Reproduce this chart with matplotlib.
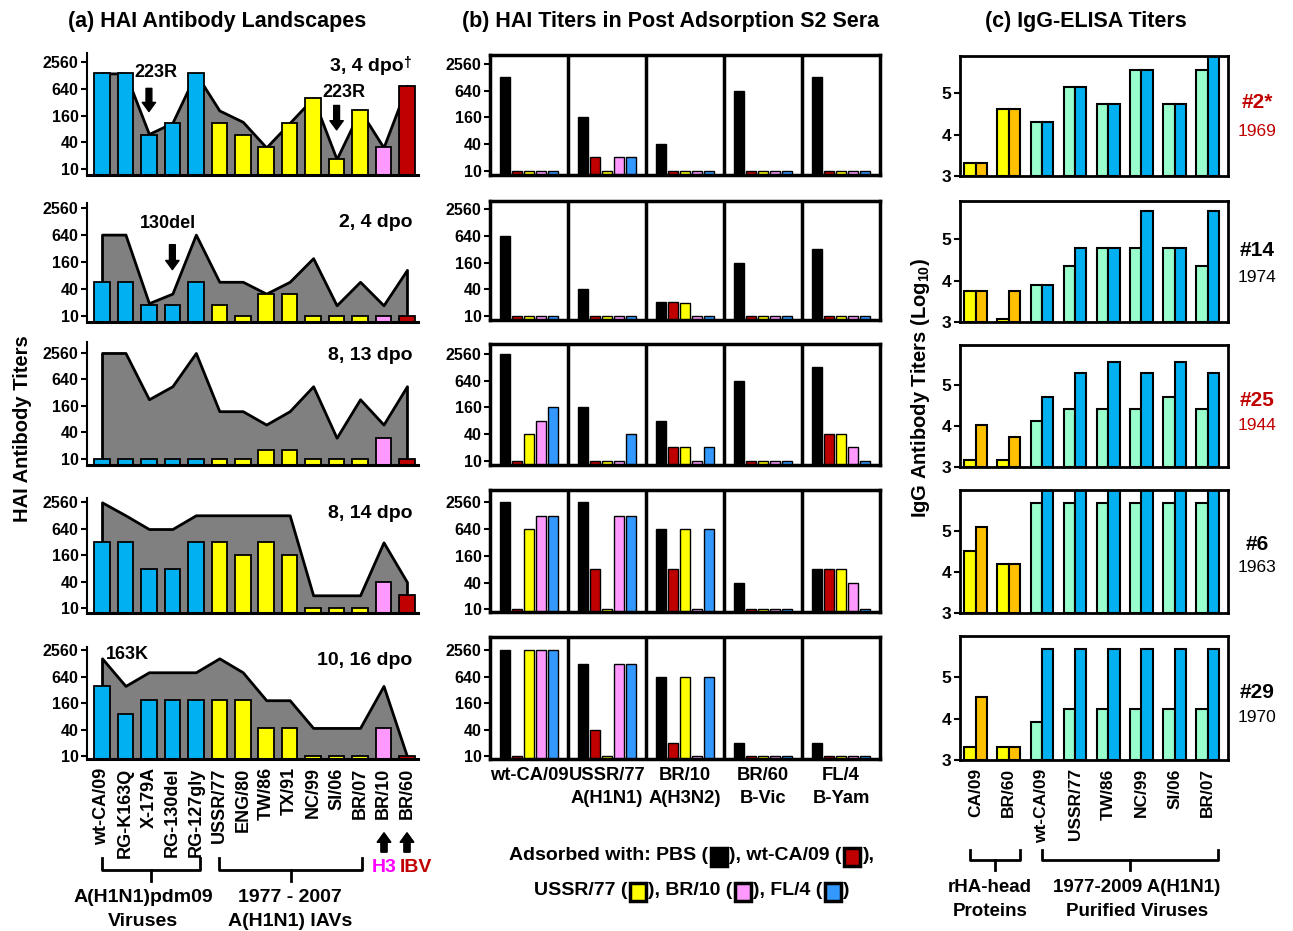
import numpy as np
import matplotlib
matplotlib.use('Agg')
import matplotlib.pyplot as plt
from matplotlib.lines import Line2D
from matplotlib.patches import Rectangle
from matplotlib.offsetbox import TextArea, DrawingArea, HPacker, VPacker, AnchoredOffsetbox

plt.rcParams['font.family'] = ['Liberation Sans', 'DejaVu Sans']
plt.rcParams['font.weight'] = 'bold'
plt.rcParams['mathtext.default'] = 'regular'

# ---------------- data ----------------
# (a) HAI antibody landscapes: 14 viruses, bars + grey area per ferret pair
a_viruses = ['wt-CA/09', 'RG-K163Q', 'X-179A', 'RG-130del', 'RG-127gly', 'USSR/77', 'ENG/80',
             'TW/86', 'TX/91', 'NC/99', 'SI/06', 'BR/07', 'BR/10', 'BR/60']
a_rowlabels = ['3, 4 dpo', '2, 4 dpo', '8, 13 dpo', '8, 14 dpo', '10, 16 dpo']

a_bars_1 = [1400, 1400, 58, 110, 1400, 110, 58, 31, 110, 394, 17, 208, 31, 741]
a_bars_2 = [57, 57, 17, 17, 57, 17, 10, 31, 31, 10, 10, 10, 10, 10]
a_bars_3 = [10, 10, 10, 10, 10, 10, 10, 16, 16, 10, 10, 10, 30, 10]
a_bars_4 = [314, 314, 79, 79, 314, 314, 159, 314, 159, 10, 10, 10, 39, 19.5]
a_bars_5 = [394, 90, 187, 187, 187, 187, 187, 44, 44, 10, 10, 10, 44, 10]

a_area_1 = [1400, 1400, 62, 110, 1400, 208, 116, 31, 110, 394, 17, 208, 31, 741]
a_area_2 = [645, 645, 19, 31, 645, 57, 57, 31, 57, 192, 17, 57, 17, 105]
a_area_3 = [2560, 2560, 226, 447, 2560, 121, 121, 60, 121, 447, 30, 226, 60, 447]
a_area_4 = [2560, 1300, 632, 632, 1300, 1300, 1300, 1300, 1300, 19.5, 19.5, 19.5, 314, 39]
a_area_5 = [1660, 394, 803, 803, 803, 1660, 803, 187, 187, 44, 44, 44, 394, 10]

a_bars = [a_bars_1, a_bars_2, a_bars_3, a_bars_4, a_bars_5]
a_area = [a_area_1, a_area_2, a_area_3, a_area_4, a_area_5]

# (b) HAI titers after adsorption: rows = test virus, cols = adsorbed with
b_tests = ['wt-CA/09', 'USSR/77\nA(H1N1)', 'BR/10\nA(H3N2)', 'BR/60\nB-Vic', 'FL/4\nB-Yam']
b_adsorb = ['PBS', 'wt-CA/09', 'USSR/77', 'BR/10', 'FL/4']
b_titers_1 = [[1280, 10, 10, 10, 10], [160, 20, 10, 20, 20], [40, 10, 10, 10, 10],
              [640, 10, 10, 10, 10], [1280, 10, 10, 10, 10]]
b_titers_2 = [[640, 10, 10, 10, 10], [40, 10, 10, 10, 10], [20, 20, 19, 10, 10],
              [160, 10, 10, 10, 10], [320, 10, 10, 10, 10]]
b_titers_3 = [[2560, 10, 40, 80, 160], [160, 10, 10, 10, 40], [80, 20, 20, 10, 20],
              [640, 10, 10, 10, 10], [1280, 40, 40, 20, 10]]
b_titers_4 = [[2560, 10, 640, 1280, 1280], [2560, 80, 10, 1280, 1280], [640, 80, 640, 10, 640],
              [40, 10, 10, 10, 10], [80, 80, 80, 40, 10]]
b_titers_5 = [[2560, 10, 2560, 2560, 2560], [1280, 40, 10, 1280, 1280], [640, 20, 640, 10, 640],
              [20, 10, 10, 10, 10], [20, 10, 10, 10, 10]]
b_titers = [b_titers_1, b_titers_2, b_titers_3, b_titers_4, b_titers_5]

# (c) IgG-ELISA titers (log10), two bars per antigen
c_antigens = ['CA/09', 'BR/60', 'wt-CA/09', 'USSR/77', 'TW/86', 'NC/99', 'SI/06', 'BR/07']
c_ferrets = ['#2*', '#14', '#25', '#6', '#29']
c_years = ['1969', '1974', '1944', '1963', '1970']
c_left_1 = [3.31, 4.61, 4.30, 5.15, 4.73, 5.57, 4.73, 5.57]
c_right_1 = [3.31, 4.61, 4.30, 5.15, 4.73, 5.57, 4.73, 5.90]
c_left_2 = [3.75, 3.08, 3.90, 4.36, 4.79, 4.79, 4.79, 4.36]
c_right_2 = [3.75, 3.75, 3.90, 4.79, 4.79, 5.68, 4.79, 5.68]
c_left_3 = [3.16, 3.16, 4.13, 4.41, 4.41, 4.41, 4.70, 4.41]
c_right_3 = [4.02, 3.73, 4.70, 5.29, 5.57, 5.29, 5.57, 5.29]
c_left_4 = [4.51, 4.20, 5.69, 5.69, 5.69, 5.69, 5.69, 5.69]
c_right_4 = [5.10, 4.20, 6.00, 6.00, 6.00, 6.00, 6.00, 6.00]
c_left_5 = [3.32, 3.32, 3.91, 4.23, 4.23, 4.23, 4.23, 4.23]
c_right_5 = [4.52, 3.32, 5.69, 5.69, 5.69, 5.69, 5.69, 5.69]
c_left = [c_left_1, c_left_2, c_left_3, c_left_4, c_left_5]
c_right = [c_right_1, c_right_2, c_right_3, c_right_4, c_right_5]

# ---------------- styles ----------------
BLUE = '#00B0F0'
YEL = '#FFFF00'
PINK = '#FF99FF'
RED = '#C00000'
a_colors = [BLUE] * 5 + [YEL] * 7 + [PINK, RED]
b_colors = ['black', RED, YEL, PINK, '#3399FF']
c_lcol = [YEL, YEL] + ['#99FFCC'] * 6
c_rcol = ['#FFC000', '#FFC000'] + [BLUE] * 6
c_namecol = [RED, 'black', RED, 'black', 'black']

W, H = 1293, 931
fig = plt.figure(figsize=(W / 100, H / 100), dpi=100)


def fx(x):
    return x / W


def fy(y):
    return 1 - y / H


def add_ax(l, t, r, b):
    return fig.add_axes([fx(l), fy(b), (r - l) / W, (b - t) / H])


def bracket(x0, x1, ytop, ybar, ytick):
    xm = (x0 + x1) / 2
    fig.add_artist(Line2D([fx(x0), fx(x0), fx(x1), fx(x1)], [fy(ytop), fy(ybar), fy(ybar), fy(ytop)],
                          transform=fig.transFigure, color='k', lw=2))
    fig.add_artist(Line2D([fx(xm), fx(xm)], [fy(ybar), fy(ytick)], transform=fig.transFigure, color='k', lw=2))


arrow_style = dict(arrowstyle='simple,head_length=0.55,head_width=0.8,tail_width=0.35',
                   fc='k', ec='k', mutation_scale=12, shrinkA=0, shrinkB=0)


def up_arrow(x, ytail, ytip):
    fig.add_artist(plt.annotate('', xy=(fx(x), fy(ytip)), xytext=(fx(x), fy(ytail)),
                                xycoords='figure fraction', textcoords='figure fraction',
                                arrowprops=arrow_style))


log_ticks = [10, 40, 160, 640, 2560]

# ---------------- panel (a) ----------------
a_rows = [(53, 175), (203, 322), (342, 465), (498, 613), (647, 759)]
a_ylims = [(7.5, 4000), (7.2, 3280), (7.2, 4550), (7.7, 3220), (8.7, 3000)]
a_label_y = [0.89, 0.84, 0.894, 0.867, 0.88]
x = np.arange(len(a_viruses))
for i in range(5):
    ax = add_ax(87, a_rows[i][0], 418, a_rows[i][1])
    y0, y1 = a_ylims[i]
    ax.set_yscale('log', base=2)
    ax.fill_between(x, y0, a_area[i], facecolor='#808080', edgecolor='k', lw=2, zorder=1)
    ax.bar(x, np.array(a_bars[i]) - y0, 0.66, bottom=y0, color=a_colors, edgecolor='k', lw=1.3, zorder=2)
    ax.set_xlim(-0.64, 13.47)
    ax.set_ylim(y0, y1)
    ax.set_yticks(log_ticks)
    ax.set_yticklabels([str(t) for t in log_ticks])
    ax.yaxis.set_minor_locator(matplotlib.ticker.NullLocator())
    ax.tick_params(axis='y', direction='out', length=4, width=1.5, labelsize=11.5, pad=2)
    for s in ['top', 'right']:
        ax.spines[s].set_visible(False)
    ax.spines['left'].set_linewidth(1.5)
    ax.spines['bottom'].set_linewidth(2.2)
    ax.patch.set_alpha(0)
    if i == 0:
        ax.text(0.958, a_label_y[i], a_rowlabels[i], transform=ax.transAxes, ha='right', va='center', fontsize=14)
        ax.text(0.955, a_label_y[i] + 0.03, '\u2020', transform=ax.transAxes, ha='left', va='center', fontsize=10)
    else:
        ax.text(0.982, a_label_y[i], a_rowlabels[i], transform=ax.transAxes, ha='right', va='center', fontsize=14)
    if i == 4:
        ax.set_xticks(x)
        ax.set_xticklabels(a_viruses, rotation=90, fontsize=13)
        ax.tick_params(axis='x', length=0, pad=6)
    else:
        ax.set_xticks([])
    # mutation markers
    if i == 0:
        ax.text(2.3, 0.84, '223R', transform=ax.get_xaxis_transform(), ha='center', va='center', fontsize=13)
        ax.annotate('', xy=(2, 0.52), xytext=(2, 0.71), xycoords=('data', 'axes fraction'),
                    textcoords=('data', 'axes fraction'), arrowprops=arrow_style)
        ax.text(10.3, 0.68, '223R', transform=ax.get_xaxis_transform(), ha='center', va='center', fontsize=13)
        ax.annotate('', xy=(10, 0.37), xytext=(10, 0.57), xycoords=('data', 'axes fraction'),
                    textcoords=('data', 'axes fraction'), arrowprops=arrow_style)
    if i == 1:
        ax.text(2.8, 0.83, '130del', transform=ax.get_xaxis_transform(), ha='center', va='center', fontsize=13)
        ax.annotate('', xy=(3, 0.44), xytext=(3, 0.65), xycoords=('data', 'axes fraction'),
                    textcoords=('data', 'axes fraction'), arrowprops=arrow_style)
    if i == 4:
        ax.text(1.1, 0.93, '163K', transform=ax.get_xaxis_transform(), ha='center', va='center', fontsize=13)

fig.text(fx(23), fy(429), 'HAI Antibody Titers', rotation=90, ha='center', va='center', fontsize=14.5)
fig.text(fx(217), fy(21), '(a) HAI Antibody Landscapes', ha='center', va='center', fontsize=15.5)

bracket(102, 200, 858, 870, 881)
bracket(219, 362, 858, 870, 881)
fig.text(fx(143), fy(898), 'A(H1N1)pdm09', ha='center', va='center', fontsize=14)
fig.text(fx(143), fy(921), 'Viruses', ha='center', va='center', fontsize=14)
fig.text(fx(290), fy(898), '1977 - 2007', ha='center', va='center', fontsize=14)
fig.text(fx(290), fy(921), 'A(H1N1) IAVs', ha='center', va='center', fontsize=14)
up_arrow(384, 852, 833)
up_arrow(407, 852, 833)
fig.text(fx(384), fy(868), 'H3', ha='center', va='center', fontsize=14, color='#FF00FF')
fig.text(fx(416), fy(868), 'IBV', ha='center', va='center', fontsize=14, color=RED)

# ---------------- panel (b) ----------------
b_rows = [(55, 175), (201, 320), (344, 465), (490, 612), (637, 759)]
b_ylims = [(8.0, 4100), (8.0, 3960), (8.0, 4300), (8.7, 4870), (8.7, 5120)]
g = np.arange(len(b_tests))
for i in range(5):
    ax = add_ax(490, b_rows[i][0], 880, b_rows[i][1])
    y0, y1 = b_ylims[i]
    ax.set_yscale('log', base=2)
    vals = np.array(b_titers[i], dtype=float)
    for j in range(len(b_adsorb)):
        ax.bar(g + 0.5 + (j - 2) * 0.155, vals[:, j] - y0, 0.13, bottom=y0, color=b_colors[j],
               edgecolor='k', lw=1, zorder=2)
    for k in range(1, 5):
        ax.axvline(k, color='k', lw=2.5, zorder=3)
    ax.set_xlim(0, 5)
    ax.set_ylim(y0, y1)
    ax.set_yticks(log_ticks)
    ax.set_yticklabels([str(t) for t in log_ticks])
    ax.yaxis.set_minor_locator(matplotlib.ticker.NullLocator())
    ax.tick_params(axis='y', direction='out', length=4, width=1.5, labelsize=11.5, pad=2)
    for s in ax.spines.values():
        s.set_linewidth(2.5)
    if i == 4:
        ax.set_xticks(g + 0.5)
        ax.set_xticklabels(b_tests, fontsize=13.2, linespacing=1.45)
        ax.tick_params(axis='x', length=0, pad=6)
    else:
        ax.set_xticks([])

fig.text(fx(671), fy(21), '(b) HAI Titers in Post Adsorption S2 Sera', ha='center', va='center', fontsize=15.5)


def swatch(c):
    da = DrawingArea(13, 12, 0, 0)
    da.add_artist(Rectangle((0.5, -1.5), 12, 13, fc=c, ec='k', lw=2.5))
    return da


tp = dict(fontsize=14, fontweight='bold')
line1 = HPacker(children=[TextArea('Adsorbed with: PBS (', textprops=tp), swatch(b_colors[0]),
                          TextArea('), wt-CA/09 (', textprops=tp), swatch(b_colors[1]),
                          TextArea('),', textprops=tp)], align='center', pad=0, sep=1)
line2 = HPacker(children=[TextArea('USSR/77 (', textprops=tp), swatch(b_colors[2]),
                          TextArea('), BR/10 (', textprops=tp), swatch(b_colors[3]),
                          TextArea('), FL/4 (', textprops=tp), swatch(b_colors[4]),
                          TextArea(')', textprops=tp)], align='center', pad=0, sep=1)
leg = VPacker(children=[line1, line2], align='center', pad=0, sep=13)
fig.add_artist(AnchoredOffsetbox(loc='center', child=leg, frameon=False, pad=0, borderpad=0,
                                 bbox_to_anchor=(fx(692), fy(873)), bbox_transform=fig.transFigure))

# ---------------- panel (c) ----------------
c_rows = [(56, 176), (201, 322), (345, 467), (490, 613), (636, 760)]
c_tops = [5.9, 5.93, 5.98, 6.0, 6.0]
c_name_y = [(103, 132), (250, 277), (400, 425), (545, 568), (692, 717)]
xc = np.arange(len(c_antigens))
for i in range(5):
    ax = add_ax(960, c_rows[i][0], 1228, c_rows[i][1])
    ax.bar(xc - 0.17, np.array(c_left[i]) - 3, 0.34, bottom=3, color=c_lcol, edgecolor='k', lw=1.5, zorder=2)
    ax.bar(xc + 0.17, np.array(c_right[i]) - 3, 0.34, bottom=3, color=c_rcol, edgecolor='k', lw=1.5, zorder=2)
    ax.set_xlim(-0.47, 7.61)
    ax.set_ylim(3, c_tops[i])
    ax.set_yticks([3, 4, 5])
    ax.tick_params(axis='y', direction='out', length=4, width=1.5, labelsize=12.5, pad=2)
    for s in ax.spines.values():
        s.set_linewidth(2)
    if i == 4:
        ax.set_xticks(xc)
        ax.set_xticklabels(c_antigens, rotation=90, fontsize=12.5)
        ax.tick_params(axis='x', length=0, pad=6)
    else:
        ax.set_xticks([])
    fig.text(fx(1257), fy(c_name_y[i][0]), c_ferrets[i], ha='center', va='center', fontsize=15, color=c_namecol[i])
    fig.text(fx(1257), fy(c_name_y[i][1]), c_years[i], ha='center', va='center', fontsize=12.5,
             fontweight='normal', color=c_namecol[i])

fig.text(fx(920), fy(388), 'IgG Antibody Titers (Log$_{10}$)', rotation=90, ha='center', va='center', fontsize=14.5)
fig.text(fx(1086), fy(21), '(c) IgG-ELISA Titers', ha='center', va='center', fontsize=15.5)

bracket(970, 1020, 850, 860, 870)
bracket(1042, 1218, 850, 860, 870)
fig.text(fx(990), fy(887), 'rHA-head', ha='center', va='center', fontsize=13.5)
fig.text(fx(990), fy(912), 'Proteins', ha='center', va='center', fontsize=13.5)
fig.text(fx(1137), fy(887), '1977-2009 A(H1N1)', ha='center', va='center', fontsize=13.5)
fig.text(fx(1137), fy(912), 'Purified Viruses', ha='center', va='center', fontsize=13.5)

fig.savefig('out.png', dpi=100)
